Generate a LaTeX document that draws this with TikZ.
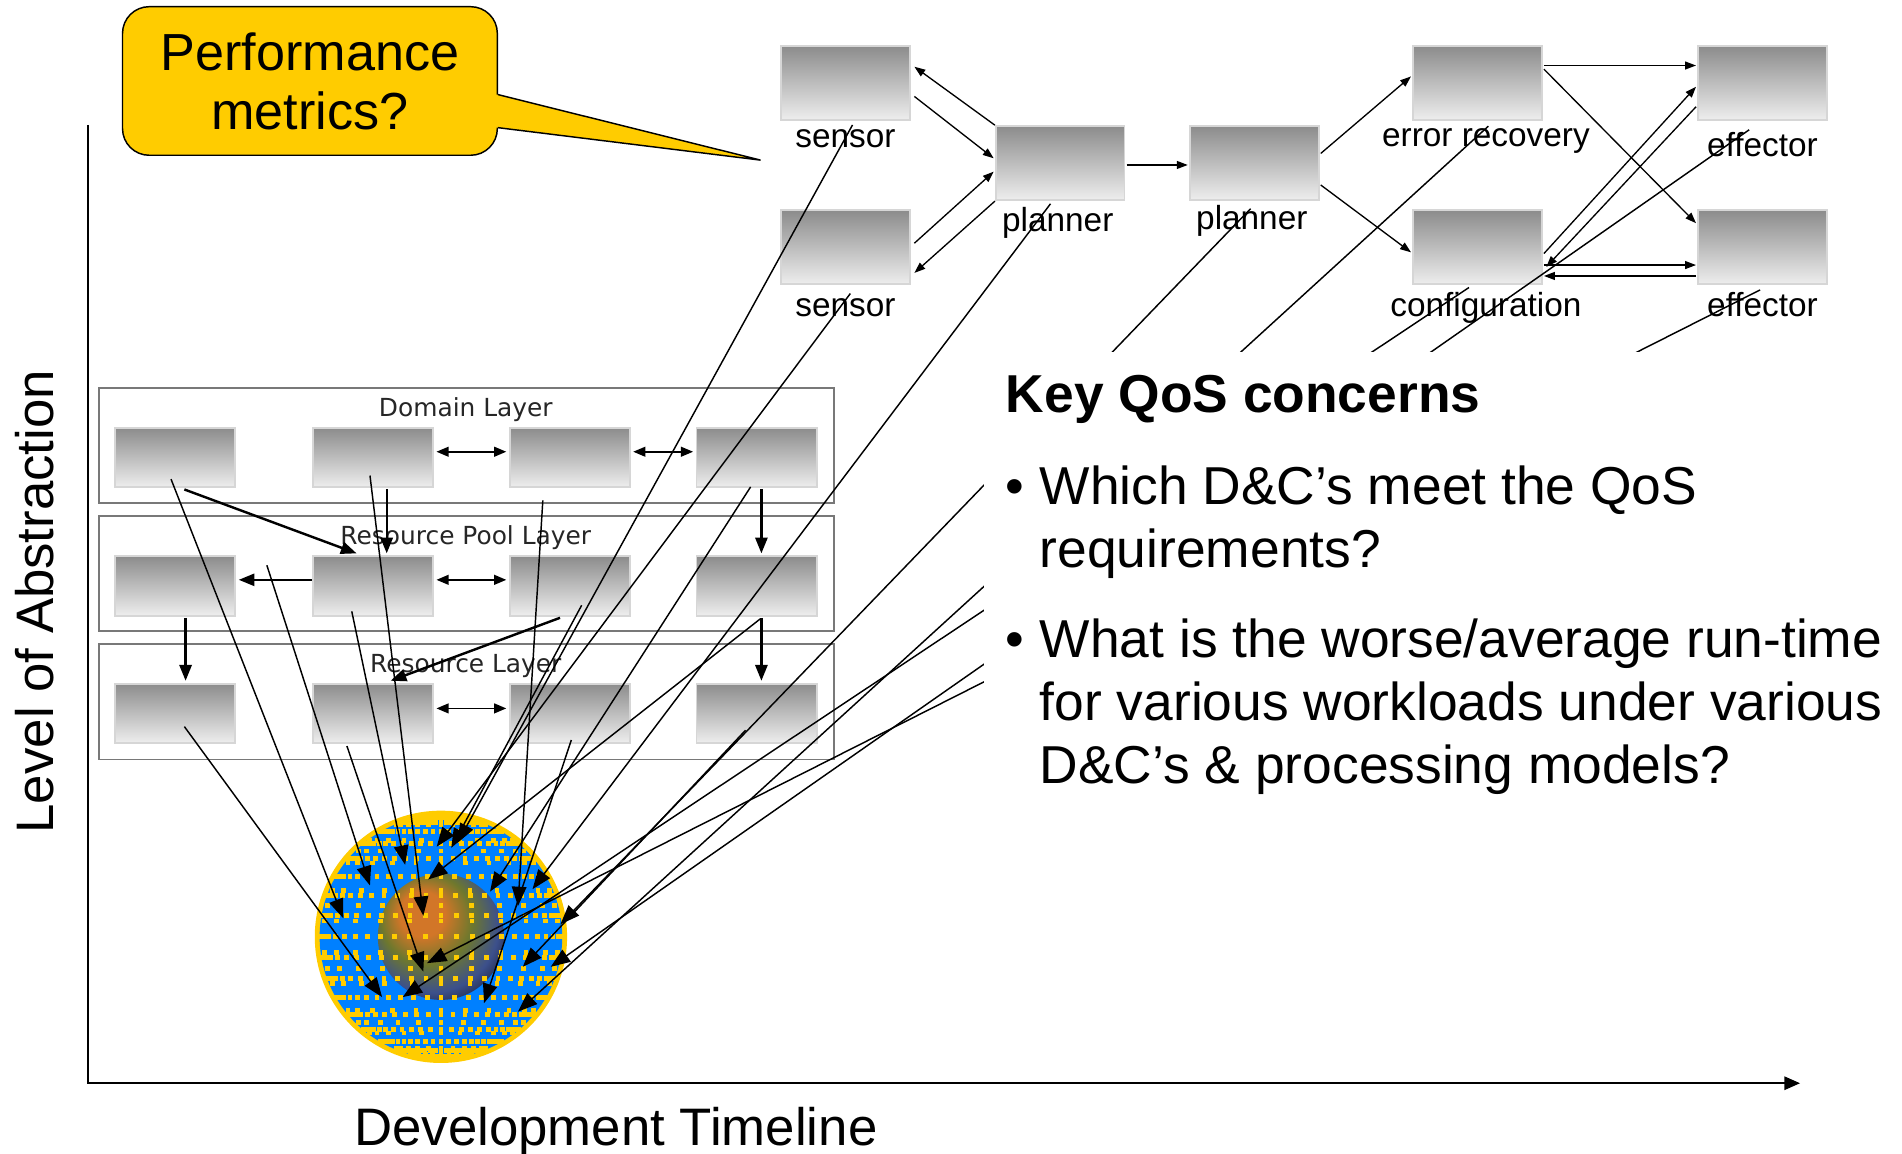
\documentclass[tikz,border=0pt]{standalone}
\usepackage{fontspec}
\setmainfont{Liberation Sans}
\newfontfamily\layerfont{DejaVu Sans}
\usetikzlibrary{arrows.meta,calc}

\definecolor{bubbleyellow}{RGB}{255,204,0}
\definecolor{dotyellow}{RGB}{255,204,0}
\definecolor{globeblue}{RGB}{0,128,255}
\definecolor{boxtop}{RGB}{140,140,140}
\definecolor{boxbottom}{RGB}{238,238,238}
\definecolor{boxrim}{RGB}{214,214,214}
\definecolor{framegray}{RGB}{120,120,120}
\definecolor{earthA}{RGB}{210,118,40}
\definecolor{earthB}{RGB}{110,120,45}
\definecolor{earthC}{RGB}{60,80,140}
\definecolor{earthD}{RGB}{18,18,30}

\pgfdeclareradialshading{earthshade}{\pgfpoint{-9bp}{11bp}}{%
  color(0bp)=(earthA); color(9bp)=(earthA); color(18bp)=(earthB);
  color(27bp)=(earthC); color(36bp)=(earthD); color(50bp)=(earthD)}

\begin{document}
\begin{tikzpicture}[x=1pt,y=-1pt,
  shadedbox/.style={draw=boxrim, line width=1.6pt, top color=boxtop, bottom color=boxbottom, inner sep=0pt},
  flowbox/.style={shadedbox, minimum width=106pt, minimum height=61pt},
  layerbox/.style={shadedbox, minimum width=99pt, minimum height=49pt},
  layerframe/.style={draw=framegray, line width=1.3pt, fill=white, minimum width=606pt, minimum height=95pt, inner sep=0pt},
  flowlabel/.style={anchor=base, inner sep=0pt, font=\fontsize{27.5}{30}\selectfont},
  layertitle/.style={anchor=base, inner sep=0pt, font=\layerfont\fontsize{20.5}{24}\selectfont, text=black!85},
  bigtext/.style={anchor=base west, inner sep=0pt, font=\fontsize{44}{52}\selectfont},
  flowarrow/.style={line width=1.1pt, -{Triangle[length=9pt,width=6.5pt]}},
  layerarrow/.style={line width=2pt, -{Triangle[length=13pt,width=10pt]}},
  twoway/.style={line width=1.5pt, {Triangle[length=10pt,width=8pt]}-{Triangle[length=10pt,width=8pt]}},
  probe/.style={line width=1.2pt, -{Triangle[length=16pt,width=12pt]}},
  griddot/.style={fill=dotyellow},
]
\useasboundingbox (0,0) rectangle (1568,951);

% ---------- axes ----------
\coordinate (ytop) at (72.5,103);
\coordinate (origin) at (72.5,893);
\coordinate (xtip) at (1484,893);
\draw[line width=1.7pt, line join=miter, -{Triangle[length=13pt,width=11pt]}] (ytop) -- (origin) -- (xtip);
\node[anchor=base west, inner sep=0pt, font=\fontsize{43.5}{50}\selectfont] (xlabel) at (292,944) {Development Timeline};
\node[rotate=90, anchor=base, inner sep=0pt, font=\fontsize{43.5}{50}\selectfont] (ylabel) at (44,496) {Level of Abstraction};

% ---------- callout ----------
\node[draw=black, line width=1.2pt, fill=bubbleyellow, rounded corners=22pt, minimum width=309pt, minimum height=122.5pt, inner sep=0pt] (bubble) at (255.5,66.75) {};
\coordinate (tailtip) at (627,132);
\fill[bubbleyellow] ($(bubble.east)+(-6,11.25)$) -- ($(bubble.east)+(0.6,11.25)$) -- (tailtip) -- ($(bubble.east)+(0.6,38.5)$) -- ($(bubble.east)+(-6,38.5)$) -- cycle;
\draw[line width=1.2pt, line join=miter] ($(bubble.east)+(0,11.25)$) -- (tailtip) -- ($(bubble.east)+(0,38.5)$);
\node[anchor=base, inner sep=0pt, font=\fontsize{43}{47}\selectfont] (perfA) at (255.5,58) {Performance};
\node[anchor=base, inner sep=0pt, font=\fontsize{43}{47}\selectfont] (perfB) at (255.5,107) {metrics?};

% ---------- control flow ----------
\node[flowbox] (s1) at (697,68.5) {};
\node[flowbox] (s2) at (697,204) {};
\node[flowbox] (p1) at (874,134.5) {};
\node[flowbox] (p2) at (1034,134.5) {};
\node[flowbox] (er) at (1218,68.5) {};
\node[flowbox] (cf) at (1218,204) {};
\node[flowbox] (e1) at (1453,68.5) {};
\node[flowbox] (e2) at (1453,204) {};

\node[flowlabel] (s1l) at (697,122) {sensor};
\node[flowlabel] (s2l) at (697,261) {sensor};
\node[flowlabel] (p1l) at (872,191) {planner};
\node[flowlabel] (p2l) at (1032,189) {planner};
\node[flowlabel] (erl) at (1225,121) {error recovery};
\node[flowlabel] (cfl) at (1225,261) {configuration};
\node[flowlabel] (e1l) at (1453,129) {effector};
\node[flowlabel] (e2l) at (1453,261) {effector};

\draw[flowarrow] (p1.north west) -- ($(s1.east)+(3,-13.5)$);
\draw[flowarrow] ($(s1.east)+(3,11)$) -- ($(p1.west)+(-1,-4)$);
\draw[flowarrow] ($(s2.east)+(3,-3.5)$) -- ($(p1.west)+(-1,7)$);
\draw[flowarrow] (p1.south west) -- ($(s2.east)+(3,21)$);
\draw[flowarrow] ($(p1.east)+(1,1.5)$) -- ($(p2.west)+(-1,1.5)$);
\draw[flowarrow] ($(p2.east)+(1,-8)$) -- ($(er.west)+(-1,-5.5)$);
\draw[flowarrow] ($(p2.east)+(1,18)$) -- ($(cf.west)+(-1,4)$);
\draw[flowarrow] ($(er.east)+(1,-14.5)$) -- ($(e1.west)+(-1,-14.5)$);
\draw[flowarrow] ($(er.east)+(1,-11.5)$) -- ($(e2.west)+(-1,-20)$);
\draw[flowarrow] ($(cf.east)+(1,5)$) -- ($(e1.west)+(-1,3)$);
\draw[flowarrow] ($(e1.west)+(-1,19.5)$) -- ($(cf.east)+(3,16)$);
\draw[flowarrow] ($(cf.east)+(1,14.5)$) -- ($(e2.west)+(-1,14.5)$);
\draw[flowarrow] ($(e2.west)+(-1,23.5)$) -- ($(cf.east)+(1,23.5)$);

% ---------- layered architecture ----------
\node[layerframe] (domain) at (384.5,367.2) {};
\node[layerframe] (pool) at (384.5,472.7) {};
\node[layerframe] (resource) at (384.5,578.5) {};
\node[layertitle] (domaint) at (384,343.5) {Domain Layer};
\node[layertitle] (poolt) at (384,449) {Resource Pool Layer};
\node[layertitle] (resourcet) at (384,554) {Resource Layer};

\foreach \n/\x in {1/144.5,2/307.5,3/469.7,4/623.7}{
  \node[layerbox] (d\n) at (\x,377.2) {};
  \node[layerbox] (rp\n) at (\x,483) {};
  \node[layerbox] (r\n) at (\x,588) {};
}

\draw[twoway] ($(d2.east)+(2,-4.8)$) -- ($(d3.west)+(-2,-4.8)$);
\draw[twoway] ($(d3.east)+(2,-4.8)$) -- ($(d4.west)+(-2,-4.8)$);
\draw[layerarrow] ($(d1.south)+(7.5,1)$) -- ($(rp2.north)+(-13.5,-1.5)$);
\draw[layerarrow] ($(d2.south)+(11.3,1)$) -- ($(rp2.north)+(11.3,-1.5)$);
\draw[layerarrow] ($(d4.south)+(4,1)$) -- ($(rp4.north)+(4,-1.5)$);
\draw[layerarrow] ($(rp2.west)+(0,-5)$) -- ($(rp1.east)+(2,-5)$);
\draw[twoway] ($(rp2.east)+(2,-5)$) -- ($(rp3.west)+(-2,-5)$);
\draw[layerarrow] ($(rp1.south)+(8.5,1)$) -- ($(r1.north)+(8.5,-1.5)$);
\draw[layerarrow] ($(rp3.south)+(-8,1)$) -- ($(r2.north)+(14.5,-1.5)$);
\draw[layerarrow] ($(rp4.south)+(4,1)$) -- ($(r4.north)+(4,-1.5)$);
\draw[twoway] ($(r2.east)+(2,-4)$) -- ($(r3.west)+(-2,-4)$);

% ---------- globe with dotted grid ----------
\coordinate (globe) at (363.5,772.3);
\fill[dotyellow] (globe) circle[radius=104pt];
\fill[globeblue] (globe) circle[radius=100pt];
\shade[shading=earthshade] (globe) circle[radius=52pt];
\foreach \la in {-80,-70,...,80}{
  \foreach \lo in {-90,-82.5,...,90}{
    \fill[griddot] ({363.5+100*cos(\la)*sin(\lo)},{772.3-100*sin(\la)}) +(-2,-2) rectangle +(2,2);
  }
}
\foreach \lo in {-75,-60,...,75}{
  \foreach \la in {-82.5,-75,...,82.5}{
    \fill[griddot] ({363.5+100*cos(\la)*sin(\lo)},{772.3-100*sin(\la)}) +(-2,-2) rectangle +(2,2);
  }
}

% ---------- mapping lines onto the deployment target ----------
\coordinate (tS1) at (702.8,103);
\coordinate (tS2) at (701,242);
\coordinate (tP1) at (866,168);
\coordinate (tP2) at (1031,172);
\coordinate (tER) at (1227,104);
\coordinate (tCF) at (1211,237);
\coordinate (tE1) at (1442,107);
\coordinate (tE2) at (1451,239);
\coordinate (tD1) at (141,395);
\coordinate (tD2) at (305,392);
\coordinate (tD3) at (447.5,412.5);
\coordinate (tD4) at (618.8,401.4);
\coordinate (tRP1) at (220,466);
\coordinate (tRP2) at (290,504);
\coordinate (tRP3) at (479.5,499);
\coordinate (tRP4) at (627,510);
\coordinate (tR1) at (152,599);
\coordinate (tR2) at (286,615);
\coordinate (tR3) at (471,610);
\coordinate (tR4) at (614.6,602);

\coordinate (hA) at (360,698);
\coordinate (hB) at (377,695);
\coordinate (hB2) at (372,699);
\coordinate (hC) at (334,713);
\coordinate (hD) at (305,730);
\coordinate (hE) at (353,725);
\coordinate (hF) at (404,735);
\coordinate (hG) at (439,733);
\coordinate (hH) at (427,747);
\coordinate (hI) at (283,757);
\coordinate (hJ) at (349,755);
\coordinate (hK) at (462,762);
\coordinate (hL) at (349,801);
\coordinate (hM) at (352,794);
\coordinate (hN) at (431,797);
\coordinate (hO) at (454,797);
\coordinate (hP) at (315,822);
\coordinate (hQ) at (332,822);
\coordinate (hR) at (399,827);
\coordinate (hS) at (427,834);

\foreach \s/\t in {tS1/hB, tS2/hA, tP1/hG, tP2/hK, tER/hS, tCF/hQ, tE1/hO, tE2/hM,
                   tD1/hI, tD2/hJ, tD3/hH, tD4/hF, tRP1/hD, tRP2/hC, tRP3/hB2, tRP4/hE,
                   tR1/hP, tR2/hL, tR3/hR, tR4/hN}{
  \draw[probe] (\s) -- (\t);
}

% ---------- QoS questions ----------
\node[fill=white, anchor=north west, minimum width=757pt, minimum height=420pt, inner sep=0pt] (panel) at (811,290) {};
\node[bigtext, font=\bfseries\fontsize{44}{52}\selectfont] (qoshead) at (829,340) {Key QoS concerns};
\node[bigtext] (bulletA) at (829,416) {\textbullet};
\node[bigtext] (qA1) at (857,416) {Which D\&C’s meet the QoS};
\node[bigtext] (qA2) at (857,468) {requirements?};
\node[bigtext] (bulletB) at (829,542) {\textbullet};
\node[bigtext] (qB1) at (857,542) {What is the worse/average run-time};
\node[bigtext] (qB2) at (857,594) {for various workloads under various};
\node[bigtext] (qB3) at (857,646) {D\&C’s \& processing models?};

\end{tikzpicture}
\end{document}
